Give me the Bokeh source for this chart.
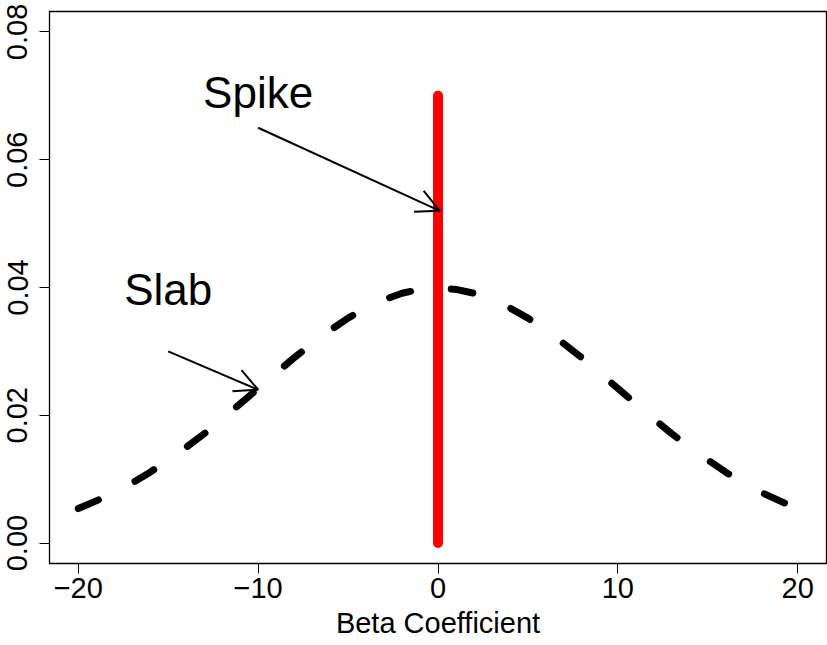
import math
from bokeh.plotting import figure
from bokeh.models import Range1d, FixedTicker, Arrow, OpenHead, Label
from bokeh.embed import file_html
from bokeh.resources import INLINE

# ---- data ----
slab_x = list(range(-20, 21))
slab_y = [0.0054, 0.0066, 0.0079, 0.0094, 0.0111, 0.0130, 0.0150, 0.0171, 0.0194, 0.0218,
          0.0242, 0.0266, 0.0290, 0.0312, 0.0333, 0.0352, 0.0368, 0.0381, 0.0391, 0.0397,
          0.0399,
          0.0397, 0.0391, 0.0381, 0.0368, 0.0352, 0.0333, 0.0312, 0.0290, 0.0266, 0.0242,
          0.0218, 0.0194, 0.0171, 0.0150, 0.0130, 0.0111, 0.0094, 0.0079, 0.0066, 0.0054]
spike_x = [0, 0]
spike_y = [0.0, 0.070]

x_ticks = [-20, -10, 0, 10, 20]
x_tick_labels = ["\u221220", "\u221210", "0", "10", "20"]
y_ticks = [0.0, 0.02, 0.04, 0.06, 0.08]
y_tick_labels = ["0.00", "0.02", "0.04", "0.06", "0.08"]

labels_text = ["Spike", "Slab"]
labels_x = [-10, -15]
labels_y = [0.0705, 0.0397]
arrows_x0 = [-10, -15]
arrows_y0 = [0.065, 0.030]
arrows_x1 = [0.1, -10]
arrows_y1 = [0.052, 0.024]

FONT = "Liberation Sans"

p = figure(width=827, height=645, output_backend="svg", toolbar_location=None,
           x_range=Range1d(-21.6, 21.6), y_range=Range1d(-0.0032, 0.0832),
           min_border_left=49, min_border_right=1, min_border_top=11, min_border_bottom=82)
p.background_fill_color = "white"
p.border_fill_color = "white"
p.grid.visible = False
p.outline_line_color = "black"
p.outline_line_width = 1.3

for ax in (p.xaxis[0], p.yaxis[0]):
    ax.axis_line_color = None
    ax.major_tick_out = 10
    ax.major_tick_in = 0
    ax.minor_tick_line_color = None
    ax.major_tick_line_color = "black"
    ax.major_tick_line_width = 1
    ax.major_label_text_font = FONT
    ax.major_label_text_font_size = "29px"
    ax.major_label_text_color = "black"

p.xaxis.ticker = FixedTicker(ticks=x_ticks)
p.xaxis.major_label_overrides = {t: s for t, s in zip(x_ticks, x_tick_labels)}
p.xaxis.major_label_standoff = 4
p.xaxis.axis_label = "Beta Coefficient"
p.xaxis.axis_label_text_font = FONT
p.xaxis.axis_label_text_font_size = "29px"
p.xaxis.axis_label_text_font_style = "normal"
p.xaxis.axis_label_text_color = "black"
p.xaxis.axis_label_standoff = 6

p.yaxis.ticker = FixedTicker(ticks=y_ticks)
p.yaxis.major_label_overrides = {t: s for t, s in zip(y_ticks, y_tick_labels)}
p.yaxis.major_label_orientation = "parallel"
p.yaxis.major_label_standoff = 12

p.line(slab_x, slab_y, line_color="black", line_width=7, line_dash="22 41", line_cap="round")
p.line(spike_x, spike_y, line_color="#FF0000", line_width=10, line_cap="round")

for i in range(len(arrows_x0)):
    p.add_layout(Arrow(end=OpenHead(size=23, line_color="black", line_width=2),
                       x_start=arrows_x0[i], y_start=arrows_y0[i],
                       x_end=arrows_x1[i], y_end=arrows_y1[i],
                       line_color="black", line_width=2))

for t, x, y in zip(labels_text, labels_x, labels_y):
    p.add_layout(Label(x=x, y=y, text=t, text_font=FONT, text_font_size="44px",
                       text_align="center", text_baseline="middle", text_color="black"))

open("out.html", "w").write(file_html(p, INLINE))
